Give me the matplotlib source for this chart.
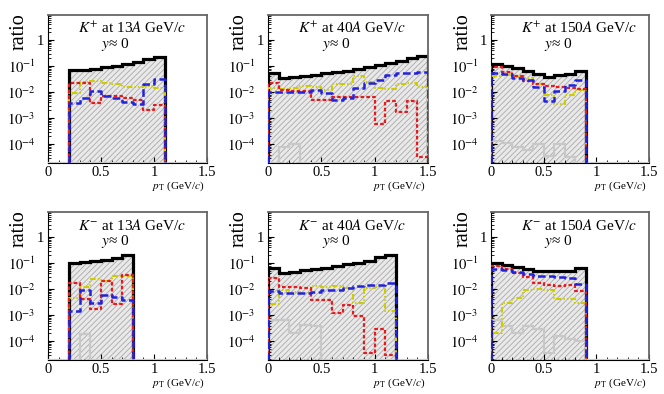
import numpy as np
import matplotlib
matplotlib.use("Agg")
import matplotlib.pyplot as plt
from matplotlib.ticker import FixedLocator, FuncFormatter, MultipleLocator

plt.rcParams['font.family'] = ['Liberation Serif', 'DejaVu Serif']
plt.rcParams['mathtext.fontset'] = 'stix'
plt.rcParams['hatch.color'] = '#aaaaaa'
plt.rcParams['hatch.linewidth'] = 0.6
plt.rcParams['lines.scale_dashes'] = False

YMIN, YMAX = 1.9e-5, 9.1
BIN = 0.1

# ---------------- data (bin width 0.1 GeV/c, first bin low edge) ----------------
titles = [r"$K^{+}$ at 13$A$ GeV/$c$", r"$K^{+}$ at 40$A$ GeV/$c$", r"$K^{+}$ at 150$A$ GeV/$c$",
          r"$K^{-}$ at 13$A$ GeV/$c$", r"$K^{-}$ at 40$A$ GeV/$c$", r"$K^{-}$ at 150$A$ GeV/$c$"]
first_edge = [0.2, 0.0, 0.0, 0.2, 0.0, 0.0]

black = [
    [0.070, 0.072, 0.080, 0.089, 0.10, 0.116, 0.145, 0.185, 0.23],
    [0.053, 0.035, 0.038, 0.042, 0.047, 0.052, 0.057, 0.065, 0.076, 0.088, 0.105, 0.13, 0.16, 0.2, 0.25],
    [0.12, 0.103, 0.081, 0.064, 0.048, 0.039, 0.044, 0.049, 0.066],
    [0.10, 0.105, 0.115, 0.13, 0.16, 0.21],
    [0.065, 0.042, 0.047, 0.052, 0.058, 0.065, 0.075, 0.088, 0.10, 0.12, 0.17, 0.20],
    [0.10, 0.085, 0.068, 0.058, 0.05, 0.049, 0.05, 0.05, 0.067],
]
yellow = [
    [0.0094, 0.025, 0.027, 0.022, 0.02, 0.016, 0.016, 0.017, 0.014],
    [0.014, 0.013, 0.015, 0.017, 0.016, 0.012, 0.02, 0.02, 0.042, 0.025, 0.014, 0.013, 0.02, 0.022, 0.016],
    [0.042, 0.045, 0.038, 0.035, 0.02, 0.008, 0.0035, 0.0075, 0.012],
    [0.0045, 0.012, 0.024, 0.02, 0.032, 0.033],
    [0.0026, 0.009, 0.008, 0.007, 0.013, 0.012, 0.013, 0.011, 0.003, 0.011, 0.012, 0.0015],
    [2e-4, 0.003, 0.0046, 0.009, 0.01, 0.0095, 0.0042, 0.0042, 0.003],
]
blue = [
    [0.0039, 0.006, 0.011, 0.007, 0.0062, 0.004, 0.0035, 0.02, 0.032],
    [0.0103, 0.0098, 0.0098, 0.0103, 0.012, 0.009, 0.0049, 0.0057, 0.014, 0.022, 0.029, 0.045, 0.052, 0.055, 0.06],
    [0.055, 0.05, 0.035, 0.03, 0.016, 0.0047, 0.011, 0.018, 0.03],
    [0.0014, 0.0093, 0.0029, 0.0062, 0.0048, 0.0038],
    [0.0085, 0.0068, 0.0068, 0.0072, 0.0075, 0.009, 0.0095, 0.011, 0.013, 0.014, 0.015, 0.017],
    [0.06, 0.055, 0.046, 0.038, 0.032, 0.031, 0.03, 0.027, 0.016],
]
red = [
    [0.023, 0.023, 0.0037, 0.0072, 0.0072, 0.0057, 0.0048, 0.002, 0.0032],
    [0.023, 0.012, 0.011, 0.011, 0.0049, 0.0049, 0.0065, 0.0065, 0.0065, 0.0065, 6e-4, 0.0045, 0.0018, 0.0045, 3.3e-5],
    [0.088, 0.06, 0.04, 0.026, 0.02, 0.017, 0.016, 0.015, 0.0127],
    [0.017, 0.0043, 0.0017, 0.02, 0.0027, 0.035],
    [0.027, 0.012, 0.012, 0.011, 0.0038, 0.0038, 0.0012, 0.0025, 9e-4, 3.5e-5, 2.9e-4, 3e-5],
    [0.08, 0.06, 0.043, 0.03, 0.017, 0.015, 0.013, 0.014, 0.0085],
]
gray = [
    [0, 0, 0, 0, 0, 0, 0, 0, 0],
    [0, 8e-5, 1e-4, 0, 0, 0, 0, 0, 0, 0, 0, 0, 0, 0, 0],
    [1.3e-4, 1.1e-4, 8e-5, 6e-5, 1e-4, 3.5e-5, 1e-4, 3.3e-5, 0],
    [0, 1.9e-4, 0, 0, 0, 0],
    [6.8e-4, 6.5e-4, 2e-4, 4.3e-4, 3.8e-4, 0, 0, 0, 0, 0, 0, 0],
    [6.5e-4, 4e-4, 2e-4, 3.9e-4, 2.9e-4, 3.6e-5, 1.65e-4, 1.2e-4, 1e-4],
]
xticks = [0, 0.5, 1, 1.5]
yticks = [1e-4, 1e-3, 1e-2, 1e-1, 1]

C_RED, C_BLUE, C_YEL, C_GRAY = '#e41a1c', '#2222dd', '#cccc00', '#c8c8c8'


def step_xy(lo, vals):
    v = np.clip(np.asarray(vals, float), YMIN, None)
    edges = lo + BIN * np.arange(len(v) + 1)
    x = np.repeat(edges, 2)
    y = np.concatenate([[YMIN], np.repeat(v, 2), [YMIN]])
    return x, y, edges


def yfmt(v, pos):
    if abs(v - 1) < 1e-9:
        return "1"
    return r"$10^{%d}$" % int(round(np.log10(v)))


fig = plt.figure(figsize=(6.64, 3.94), dpi=100)
lefts = [48, 268, 491]
widths = [159, 160, 158]
tops = [15, 212]
H = 148

for i in range(6):
    r, c = divmod(i, 3)
    ax = fig.add_axes([lefts[c] / 664, (394 - tops[r] - H) / 394, widths[c] / 664, H / 394])
    ax.set_yscale('log')
    lo = first_edge[i]

    # hatched fill under the total
    bv = np.asarray(black[i], float)
    edges = lo + BIN * np.arange(len(bv) + 1)
    ax.fill_between(edges, np.append(bv, bv[-1]), YMIN, step='post',
                    facecolor='#e9e9e9', edgecolor='#aaaaaa', hatch='//////', linewidth=0, zorder=1)

    # gray over full range (zeros drawn on the bottom, ROOT style)
    g = np.zeros(15)
    start = int(round(lo / BIN))
    g[start:start + len(gray[i])] = gray[i]
    x, y, _ = step_xy(0.0, g)
    ax.plot(x, y, color=C_GRAY, lw=1.6, zorder=3, solid_joinstyle='miter')

    # series below the axis range, shown on the bottom line
    gd = np.asarray(gray[i], float)
    if np.any(gd > 0):
        for k in np.nonzero(gd > 0)[0]:
            ax.plot([lo + k * BIN, lo + (k + 1) * BIN], [YMIN * 1.04, YMIN * 1.04], color='black',
                    lw=1.0, linestyle=(0, (1, 1.5)), zorder=7)

    x, y, _ = step_xy(lo, black[i])
    ax.plot(x, y, color='black', lw=2.3, zorder=2, solid_joinstyle='miter')
    x, y, _ = step_xy(lo, yellow[i])
    ax.plot(x, y, color=C_YEL, lw=1.5, linestyle=(0, (4, 1.5, 1, 1.5, 1, 1.5)), zorder=4)
    x, y, _ = step_xy(lo, red[i])
    ax.plot(x, y, color=C_RED, lw=1.6, linestyle=(0, (2.6, 1.6)), zorder=5)
    x, y, _ = step_xy(lo, blue[i])
    ax.plot(x, y, color=C_BLUE, lw=1.8, linestyle=(0, (5.5, 2.5)), zorder=6)

    ax.set_xlim(0, 1.5)
    ax.set_ylim(YMIN, YMAX)
    ax.xaxis.set_major_locator(FixedLocator(xticks))
    ax.xaxis.set_minor_locator(MultipleLocator(0.1))
    ax.xaxis.set_major_formatter(FuncFormatter(lambda v, p: "%g" % v))
    ax.yaxis.set_major_locator(FixedLocator(yticks))
    ax.yaxis.set_minor_locator(FixedLocator([m * 10.0 ** e for e in range(-5, 1) for m in range(2, 10)]))
    ax.yaxis.set_major_formatter(FuncFormatter(yfmt))
    ax.yaxis.set_minor_formatter(FuncFormatter(lambda v, p: ""))
    ax.tick_params(which='both', direction='in', top=False, right=False, labelsize=10.5)
    ax.tick_params(which='major', length=4, width=0.8)
    ax.tick_params(which='minor', length=2, width=0.6)
    ax.tick_params(axis='y', which='major', pad=9)
    ax.tick_params(axis='x', which='major', pad=2)
    ytk = ax.yaxis.get_major_ticks(len(yticks))
    ytk[-1].set_pad(2.5)
    for s in ['top', 'right']:
        ax.spines[s].set_color('#666666')
        ax.spines[s].set_linewidth(1.3)
    for s in ['left', 'bottom']:
        ax.spines[s].set_color('black')
        ax.spines[s].set_linewidth(0.8)

    ax.text(0.19, 0.88, titles[i], transform=ax.transAxes, fontsize=11, ha='left', va='baseline')
    ax.text(0.335, 0.78, r"$y$≈ 0", transform=ax.transAxes, fontsize=11, ha='left', va='baseline')
    ax.text(0.985, -0.16, r"$p_{\rm T}$ (GeV/$c$)", transform=ax.transAxes, fontsize=8,
            ha='right', va='center')
    ax.text(-0.18, 1.012, "ratio", transform=ax.transAxes, fontsize=14.5, rotation=90,
            ha='center', va='top')

fig.savefig("out.png", dpi=100)
